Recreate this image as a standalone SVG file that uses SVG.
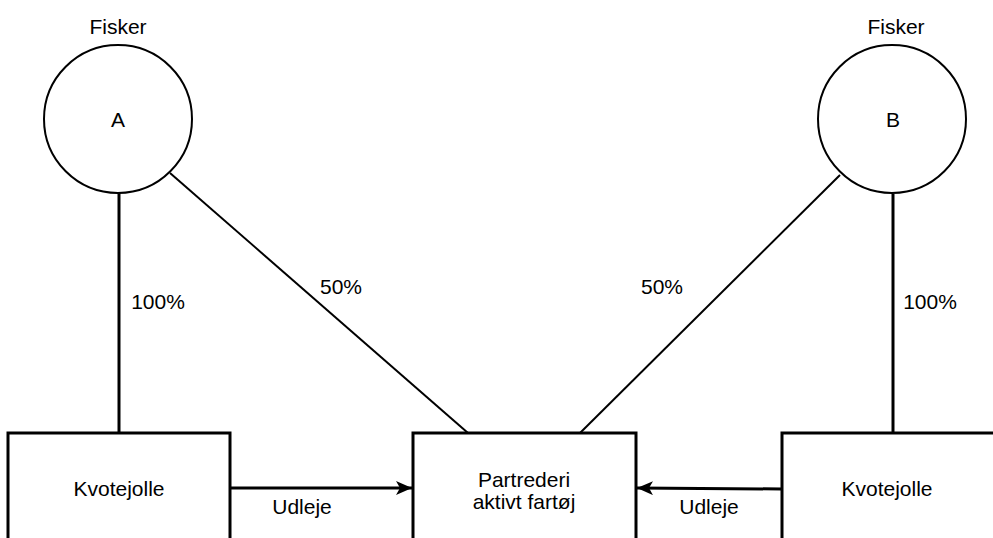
<svg xmlns="http://www.w3.org/2000/svg" width="993" height="538" viewBox="0 0 993 538">
<defs>
<style>
text{font-family:"Liberation Sans",Arial,Helvetica,sans-serif;font-size:21px;fill:#000;text-anchor:middle}
.circ{fill:#fff;stroke:#000;stroke-width:2}
.box{fill:#fff;stroke:#000;stroke-width:3}
.ln{stroke:#000;stroke-width:3;fill:none}
.dl{stroke:#000;stroke-width:2;fill:none}
</style>
<marker id="ah" viewBox="0 0 16 14" refX="16" refY="7" markerWidth="16" markerHeight="14" markerUnits="userSpaceOnUse" orient="auto">
<path d="M0,0 L16,7 L0,14 L4,7 Z" fill="#000"/>
</marker>
</defs>
<rect width="993" height="538" fill="#fff"/>
<g id="connectors">
<line class="ln" x1="119" y1="193" x2="119" y2="433"/>
<line class="ln" x1="893" y1="194" x2="893" y2="433"/>
<line class="dl" x1="170" y1="173" x2="468" y2="433"/>
<line class="dl" x1="840" y1="175" x2="580" y2="433"/>
<path class="ln" d="M230,488 L412,488" marker-end="url(#ah)"/>
<path class="ln" d="M782,489 L637,488" marker-end="url(#ah)"/>
<text x="158" y="309">100%</text>
<text x="341" y="294">50%</text>
<text x="662" y="294">50%</text>
<text x="930" y="309">100%</text>
<text x="302" y="514">Udleje</text>
<text x="709" y="514">Udleje</text>
</g>
<g id="fiskerA">
<circle class="circ" cx="118" cy="119" r="74"/>
<text x="118" y="127">A</text>
<text x="118" y="34">Fisker</text>
</g>
<g id="fiskerB">
<circle class="circ" cx="892" cy="119" r="74"/>
<text x="893" y="127">B</text>
<text x="896" y="34">Fisker</text>
</g>
<g id="kvotejolleA">
<rect class="box" x="8" y="433" width="222" height="120"/>
<text x="119" y="496">Kvotejolle</text>
</g>
<g id="partrederi">
<rect class="box" x="413" y="433" width="223" height="120"/>
<text x="524" y="487">Partrederi</text>
<text x="524" y="509">aktivt fartøj</text>
</g>
<g id="kvotejolleB">
<rect class="box" x="782" y="433" width="230" height="120"/>
<text x="887" y="496">Kvotejolle</text>
</g>
</svg>
